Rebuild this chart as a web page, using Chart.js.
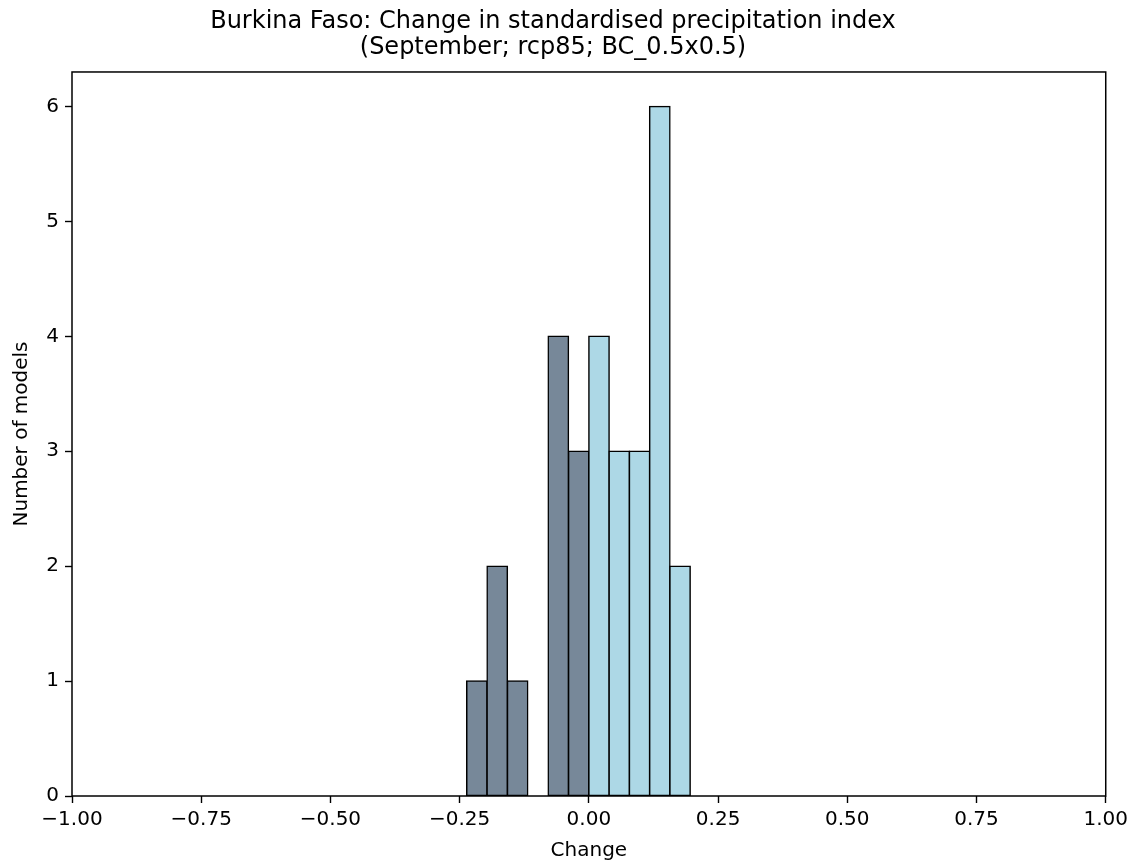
<!DOCTYPE html>
<html>
<head>
<meta charset="utf-8">
<script src="https://cdn.jsdelivr.net/npm/chart.js@4.4.1/dist/chart.umd.min.js"></script>
<style>
  html, body { margin: 0; padding: 0; background: #ffffff; }
  #wrap { width: 1133px; height: 865px; }
</style>
</head>
<body>
<div id="wrap"><canvas id="c" width="1133" height="865"></canvas></div>
<script>
// ---- data ----
const titleLines = ["Burkina Faso: Change in standardised precipitation index", "(September; rcp85; BC_0.5x0.5)"];
const xLabel = "Change";
const yLabel = "Number of models";
const binEdges = [-0.2364, -0.1970, -0.1576, -0.1182, -0.0788, -0.0394, 0.0, 0.0392, 0.0784, 0.1176, 0.1568, 0.1960, 0.2352];
const counts   = [1, 2, 1, 0, 4, 3, 4, 3, 3, 6, 2, 0];
const xTickValues = [-1, -0.75, -0.5, -0.25, 0, 0.25, 0.5, 0.75, 1];
const yTickValues = [0, 1, 2, 3, 4, 5, 6];
const negColor = "#778899";
const posColor = "#add8e6";

const points = counts.map((c, i) => ({ x: (binEdges[i] + binEdges[i + 1]) / 2, y: c }));
const colors = points.map(p => p.x < 0 ? negColor : posColor);

const frame = {
  id: 'frame',
  afterDatasetsDraw(chart) {
    const a = chart.chartArea, ctx = chart.ctx;
    ctx.save();
    ctx.strokeStyle = '#000';
    ctx.lineWidth = 1.5;
    ctx.strokeRect(a.left, a.top, a.right - a.left, a.bottom - a.top);
    ctx.restore();
  }
};

const fmt = v => {
  if (Math.abs(v) < 1e-9) return "0.00";
  return (v < 0 ? "\u2212" : "") + Math.abs(v).toFixed(2);
};

Chart.defaults.font.family = "'DejaVu Sans', sans-serif";
Chart.defaults.color = '#000';

new Chart(document.getElementById('c'), {
  type: 'bar',
  data: {
    datasets: [{
      data: points,
      backgroundColor: colors,
      borderColor: '#000',
      borderWidth: 1.5,
      inflateAmount: 0.75,
      borderSkipped: false,
      barPercentage: 1.0,
      categoryPercentage: 1.0
    }]
  },
  plugins: [frame],
  options: {
    responsive: false,
    animation: false,
    layout: { padding: { left: 0, right: 27, top: 0, bottom: 0 } },
    plugins: {
      legend: { display: false },
      tooltip: { enabled: false },
      title: {
        display: true,
        text: titleLines,
        color: '#000',
        font: { size: 24, weight: 'normal', lineHeight: 1.11 },
        padding: { top: 8, bottom: 10.7 }
      }
    },
    scales: {
      x: {
        type: 'linear',
        min: -1, max: 1,
        offset: false,
        afterFit(s) { s.height = 69; },
        afterBuildTicks(s) { s.ticks = xTickValues.map(v => ({ value: v })); },
        grid: { display: true, offset: false, drawOnChartArea: false, tickLength: 7, tickColor: '#000', tickWidth: 1.4 },
        border: { display: false },
        ticks: { callback: fmt, font: { size: 20 }, padding: 5, maxRotation: 0, autoSkip: false, color: '#000' },
        title: { display: true, text: xLabel, font: { size: 20 }, padding: { top: 0, bottom: 2 }, color: '#000' }
      },
      y: {
        type: 'linear',
        min: 0, max: 6.3,
        afterFit(s) { s.width = 72; },
        afterBuildTicks(s) { s.ticks = yTickValues.map(v => ({ value: v })); },
        grid: { display: true, drawOnChartArea: false, tickLength: 7, tickColor: '#000', tickWidth: 1.4 },
        border: { display: false },
        ticks: { font: { size: 20 }, padding: 6, color: '#000' },
        title: { display: true, text: yLabel, font: { size: 20 }, padding: { top: 10, bottom: 0 }, color: '#000' }
      }
    }
  }
});
</script>
</body>
</html>
